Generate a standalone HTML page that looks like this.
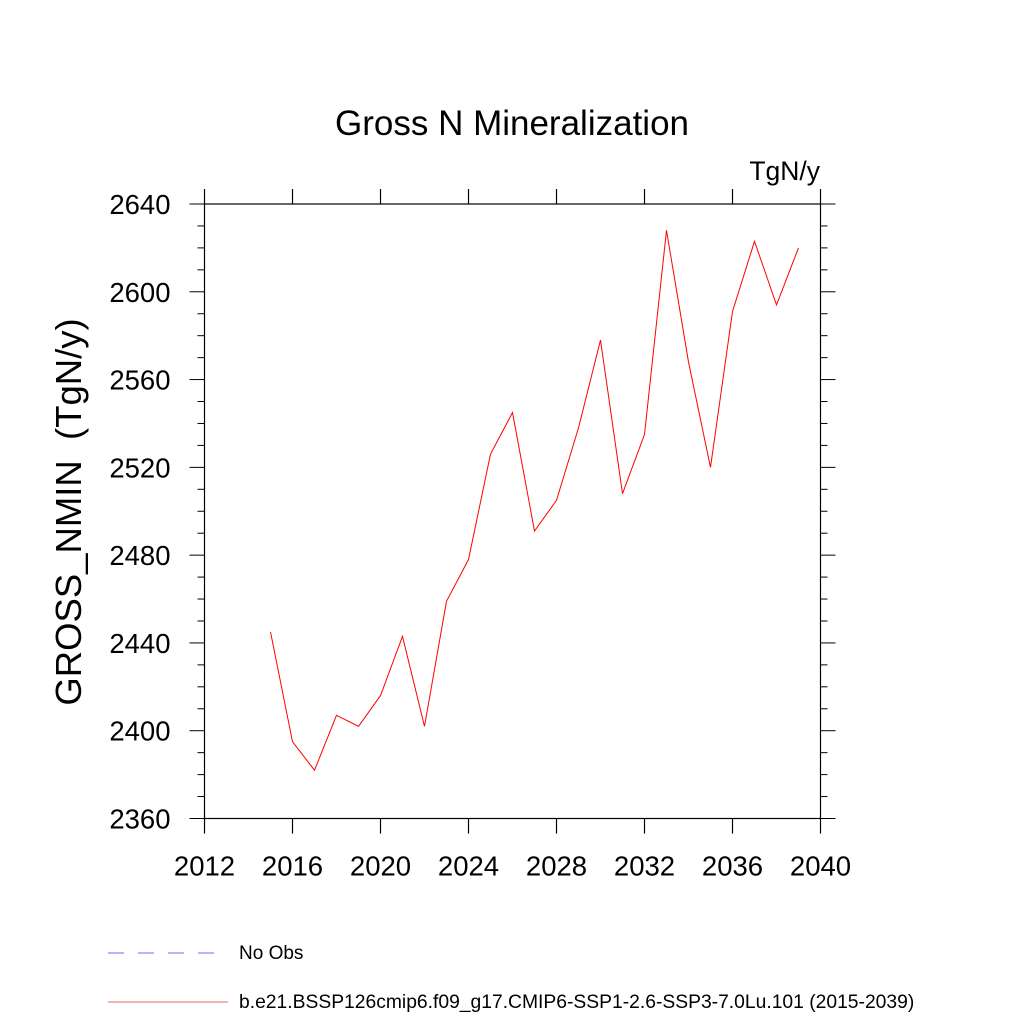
<!DOCTYPE html>
<html><head><meta charset="utf-8"><style>
body{margin:0;background:#fff}
svg{display:block;font-family:"Liberation Sans",Arial,sans-serif}
</style></head><body>
<svg id="chart" width="1024" height="1024" viewBox="0 0 1024 1024">
<text x="512" y="135" font-size="35" text-anchor="middle">Gross N Mineralization</text>
<text x="820" y="180" font-size="26.5" text-anchor="end">TgN/y</text>
<text transform="translate(81,512) rotate(-90)" font-size="36.5" text-anchor="middle" style="white-space:pre" xml:space="preserve">GROSS_NMIN  (TgN/y)</text>
<g id="axes"></g>
<g id="series"></g>
<g>
<line x1="108" y1="953" x2="218" y2="953" stroke="#6a6aff" stroke-width="1" stroke-dasharray="16,14"/>
<text x="239" y="959" font-size="19">No Obs</text>
<line x1="108" y1="1002" x2="228" y2="1002" stroke="#e66" stroke-width="1"/>
<text x="239" y="1008" font-size="19.3">b.e21.BSSP126cmip6.f09_g17.CMIP6-SSP1-2.6-SSP3-7.0Lu.101 (2015-2039)</text>
</g>
</svg>
<script>
const years=[2015,2016,2017,2018,2019,2020,2021,2022,2023,2024,2025,2026,2027,2028,2029,2030,2031,2032,2033,2034,2035,2036,2037,2038,2039];
const values=[2445,2395,2382,2407,2402,2416,2443,2402,2459,2478,2526,2545,2491,2505,2538,2578,2508,2535,2628,2568,2520,2591,2623,2594,2620];
const xTicks=[2012,2016,2020,2024,2028,2032,2036,2040];
const yTicks=[2360,2400,2440,2480,2520,2560,2600,2640];
const L=204.5,R=820.5,T=204,B=818.5;
const xs=v=>L+(v-2012)/(2040-2012)*(R-L);
const ys=v=>B-(v-2360)/(2640-2360)*(B-T);
const NS="http://www.w3.org/2000/svg";
const ax=document.getElementById('axes');
function mk(tag,attrs,parent){const e=document.createElementNS(NS,tag);for(const k in attrs)e.setAttribute(k,attrs[k]);parent.appendChild(e);return e;}
const frame=mk('rect',{x:L,y:T,width:R-L,height:B-T,fill:'none',stroke:'#000','stroke-width':1.2},ax);


xTicks.forEach(t=>{const x=xs(t);
 mk('line',{x1:x,y1:B,x2:x,y2:B+15,stroke:'#000','stroke-width':1.2},ax);
 mk('line',{x1:x,y1:T,x2:x,y2:T-15,stroke:'#000','stroke-width':1.2},ax);
 const tx=mk('text',{x:x,y:B+57,'font-size':27.5,'text-anchor':'middle'},ax);tx.textContent=t;
 
 
});
for(let v=2360;v<=2640;v+=10){const y=ys(v);const major=(v%40===0);const len=major?15:7;
 mk('line',{x1:L,y1:y,x2:L-len,y2:y,stroke:'#000','stroke-width':1},ax);
 mk('line',{x1:R,y1:y,x2:R+len,y2:y,stroke:'#000','stroke-width':1},ax);}
yTicks.forEach(t=>{const tx=mk('text',{x:L-34,y:ys(t)+10,'font-size':27.5,'text-anchor':'end'},ax);tx.textContent=t;
 
 
});
const pts=years.map((y,i)=>xs(y)+','+ys(values[i])).join(' ');
const pl=mk('polyline',{points:pts,fill:'none',stroke:'#f00','stroke-width':1},document.getElementById('series'));


</script>
</body></html>
